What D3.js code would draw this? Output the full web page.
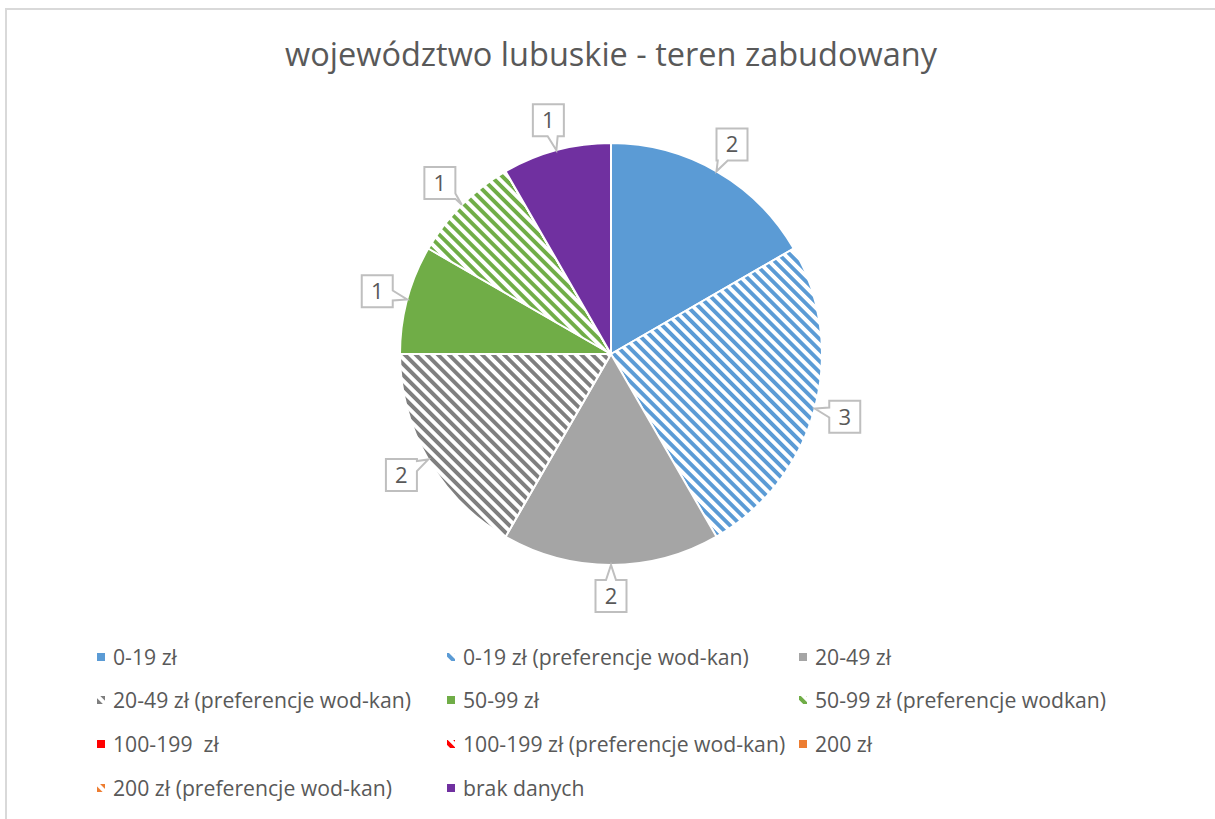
<!DOCTYPE html>
<html lang="pl">
<head>
    <meta charset="UTF-8">
    <title>województwo lubuskie</title>
    <script src="https://cdn.jsdelivr.net/npm/d3@7"></script>
    <style>
        *{
            padding: 0;
            margin: 0;
        }
        body{
            background: #fff;
        }
        svg{
            display: block;
            font-family: "Open Sans", sans-serif;
        }
    </style>
</head>
<body>
<script>
    const title = "województwo lubuskie - teren zabudowany";
    const categories = ["0-19 zł", "0-19 zł (preferencje wod-kan)", "20-49 zł",
        "20-49 zł (preferencje wod-kan)", "50-99 zł", "50-99 zł (preferencje wodkan)",
        "100-199  zł", "100-199 zł (preferencje wod-kan)", "200 zł",
        "200 zł (preferencje wod-kan)", "brak danych"];
    const values = [2, 3, 2, 2, 1, 1, 0, 0, 0, 0, 1];
    // kolory i wzory (paski) dla kolejnych kategorii
    const colors = ["#5b9bd5", "#5b9bd5", "#a5a5a5", "#7f7f7f", "#70ad47", "#70ad47",
        "#ff0000", "#ff0000", "#ed7d31", "#ed7d31", "#7030a0"];
    const striped = [false, true, false, true, false, true, false, true, false, true, false];

    const W = 1215, H = 819;
    const cx = 611, cy = 354, R = 211;
    const textColor = "#595959";

    const svg = d3.select("body").append("svg")
        .attr("width", W)
        .attr("height", H);

    // wzory pasków
    const defs = svg.append("defs");
    colors.forEach(function (c, i) {
        if (!striped[i]) return;
        let p = defs.append("pattern")
            .attr("id", "stripe" + i)
            .attr("patternUnits", "userSpaceOnUse")
            .attr("width", 7.8)
            .attr("height", 7.8)
            .attr("patternTransform", "rotate(-45)");
        p.append("rect").attr("width", 7.8).attr("height", 7.8).attr("fill", "#fff");
        p.append("rect").attr("width", 3.9).attr("height", 7.8).attr("fill", c);
    });
    function fillOf(i) {
        return striped[i] ? "url(#stripe" + i + ")" : colors[i];
    }

    // ramka wykresu
    svg.append("rect")
        .attr("x", 6).attr("y", 9)
        .attr("width", W).attr("height", H)
        .attr("fill", "none")
        .attr("stroke", "#d9d9d9")
        .attr("stroke-width", 2);

    svg.append("text")
        .attr("x", cx)
        .attr("y", 66)
        .attr("text-anchor", "middle")
        .attr("font-size", 32.5)
        .attr("fill", textColor)
        .text(title);

    const pie = d3.pie().sort(null).value(function (d) { return d; });
    const arcs = pie(values);
    const arc = d3.arc().innerRadius(0).outerRadius(R);

    const g = svg.append("g").attr("transform", "translate(" + cx + "," + cy + ")");
    g.selectAll("path.slice").data(arcs).enter().append("path")
        .attr("class", "slice")
        .attr("d", arc)
        .attr("fill", function (d, i) { return fillOf(i); })
        .attr("stroke", "#fff")
        .attr("stroke-width", 2)
        .attr("stroke-linejoin", "round");

    // etykiety danych (objaśnienia z dzióbkiem)
    const boxW = 31, boxH = 32, labelR = 242;
    function calloutPath(bx, by, tx, ty) {
        let x0 = bx - boxW / 2, x1 = bx + boxW / 2, y0 = by - boxH / 2, y1 = by + boxH / 2;
        let dx = tx - bx, dy = ty - by;
        let s = Math.min((boxW / 2) / Math.abs(dx || 1e-9), (boxH / 2) / Math.abs(dy || 1e-9));
        let px = bx + dx * s, py = by + dy * s;
        let hw = 5;
        let pts;
        if (Math.abs(py - y0) < 0.01) {          // góra
            let a = Math.max(x0, px - hw), b = Math.min(x1, px + hw);
            pts = [[x0, y0], [a, y0], [tx, ty], [b, y0], [x1, y0], [x1, y1], [x0, y1]];
        } else if (Math.abs(px - x1) < 0.01) {   // prawo
            let a = Math.max(y0, py - hw), b = Math.min(y1, py + hw);
            pts = [[x0, y0], [x1, y0], [x1, a], [tx, ty], [x1, b], [x1, y1], [x0, y1]];
        } else if (Math.abs(py - y1) < 0.01) {   // dół
            let a = Math.min(x1, px + hw), b = Math.max(x0, px - hw);
            pts = [[x0, y0], [x1, y0], [x1, y1], [a, y1], [tx, ty], [b, y1], [x0, y1]];
        } else {                                 // lewo
            let a = Math.min(y1, py + hw), b = Math.max(y0, py - hw);
            pts = [[x0, y0], [x1, y0], [x1, y1], [x0, y1], [x0, a], [tx, ty], [x0, b]];
        }
        return "M" + pts.map(function (p) { return p.join(","); }).join("L") + "Z";
    }

    const labels = svg.append("g");
    arcs.forEach(function (d, i) {
        if (d.value === 0) return;
        let mid = (d.startAngle + d.endAngle) / 2;
        let bx = cx + labelR * Math.sin(mid), by = cy - labelR * Math.cos(mid);
        let tx = cx + R * Math.sin(mid), ty = cy - R * Math.cos(mid);
        labels.append("path")
            .attr("d", calloutPath(bx, by, tx, ty))
            .attr("fill", "#fff")
            .attr("stroke", "#bfbfbf")
            .attr("stroke-width", 2)
            .attr("stroke-linejoin", "miter");
        labels.append("text")
            .attr("x", bx)
            .attr("y", by + 8)
            .attr("text-anchor", "middle")
            .attr("font-size", 22)
            .attr("fill", textColor)
            .text(d.value);
    });

    // legenda
    const colX = [97, 447, 799], rowY = [657, 700, 744, 788];
    const legend = svg.append("g");
    categories.forEach(function (name, i) {
        let x = colX[i % 3], y = rowY[Math.floor(i / 3)];
        legend.append("rect")
            .attr("x", x).attr("y", y - 4)
            .attr("width", 8).attr("height", 8)
            .attr("fill", fillOf(i));
        legend.append("text")
            .attr("x", x + 16)
            .attr("y", y + 7.5)
            .attr("font-size", 21.2)
            .attr("fill", textColor)
            .style("white-space", "pre")
            .text(name);
    });
</script>
</body>
</html>
